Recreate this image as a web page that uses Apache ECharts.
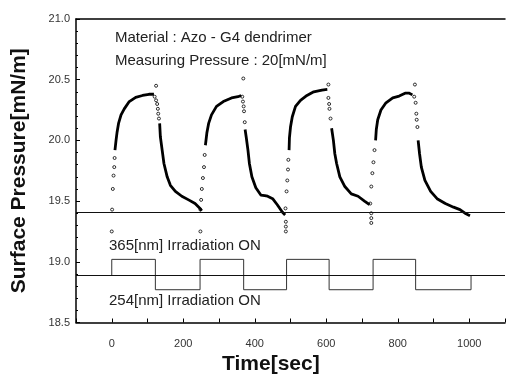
<!DOCTYPE html>
<html>
<head>
<meta charset="utf-8">
<script src="https://cdn.jsdelivr.net/npm/echarts@6/dist/echarts.min.js"></script>
<style>
  html, body { margin: 0; padding: 0; background: #fff; }
  #chart { width: 508px; height: 374px; }
</style>
</head>
<body>
<div id="chart"></div>
<script>
// Surface pressure trace: [time s, pressure mN/m]
// dense stretches (drawn as a thick trace), null splits the segments
const tracePts = [
  [9, 19.92], [12, 20.0], [15, 20.07], [19, 20.14], [26, 20.21], [35, 20.26], [49, 20.32],
  [67, 20.355], [86, 20.37], [104, 20.38], [118, 20.38], null,
  [134, 20.14], [136, 20.03], [141, 19.92], [146, 19.81], [155, 19.70], [164, 19.63],
  [178, 19.58], [196, 19.54], [215, 19.51], [233, 19.48], [247, 19.44], [251, 19.42], null,
  [262, 19.96], [266, 20.06], [271, 20.14], [279, 20.21], [293, 20.28], [312, 20.32],
  [335, 20.35], [353, 20.36], [362, 20.37], null,
  [373, 20.09], [376, 20.03], [381, 19.92], [385, 19.81], [392, 19.70], [403, 19.61],
  [417, 19.55], [428, 19.545], [436, 19.54], [450, 19.52], [463, 19.47], [477, 19.41], [485, 19.385], null,
  [496, 19.92], [497, 20.02], [500, 20.11], [505, 20.195], [514, 20.28], [528, 20.33],
  [546, 20.37], [565, 20.40], [588, 20.415], [603, 20.42], null,
  [615, 20.10], [620, 20.0], [624, 19.89], [629, 19.81], [638, 19.70], [652, 19.62],
  [670, 19.56], [689, 19.54], [707, 19.50], [721, 19.47], null,
  [738, 20.0], [740, 20.09], [744, 20.17], [753, 20.25], [767, 20.31], [786, 20.35],
  [804, 20.365], [822, 20.39], [831, 20.39], [841, 20.375], null,
  [857, 20.0], [861, 19.89], [866, 19.78], [876, 19.67], [892, 19.58], [910, 19.52],
  [933, 19.48], [956, 19.45], [974, 19.43], [988, 19.40], [1002, 19.38]
];
// sparse points on the fast rises / drops and stray readings
const sparsePts = [
  [0, 19.25], [1, 19.43], [3, 19.60], [5, 19.71], [7, 19.78], [8, 19.855],
  [124, 20.45], [120, 20.36], [124, 20.33], [127, 20.30], [129, 20.26], [130, 20.22], [132, 20.18],
  [248, 19.25], [248, 19.43], [250, 19.51], [252, 19.60], [255, 19.69], [258, 19.78], [260, 19.88],
  [368, 20.51], [365, 20.36], [367, 20.32], [369, 20.28], [370, 20.24], [372, 20.15],
  [487, 19.33], [487, 19.29], [487, 19.25],
  [486, 19.44], [489, 19.58], [491, 19.67], [493, 19.76], [494, 19.84],
  [606, 20.46], [606, 20.35], [608, 20.30], [609, 20.26], [612, 20.18],
  [726, 19.40], [726, 19.36], [726, 19.32],
  [723, 19.48], [726, 19.62], [729, 19.73], [732, 19.82], [735, 19.92],
  [848, 20.46], [846, 20.36], [850, 20.31], [852, 20.22], [853, 20.17], [855, 20.11]
];
// irradiation switching signal (step line)
const irrTimes  = [0, 0, 122, 247, 369, 489, 608, 731, 850, 1005];
const irrLevels = [18.89, 19.02, 18.77, 19.02, 18.77, 19.02, 18.77, 19.02, 18.77, 18.89];
const baseLevel = 18.89;
const refLevel  = 19.41;
const xLabels = [0, 200, 400, 600, 800, 1000];

const font = '"Liberation Sans", Arial, sans-serif';
const note = (text, left, top) => ({
  type: 'text', left, top, style: { text, font: '15px ' + font, fill: '#222' }
});
const chart = echarts.init(document.getElementById('chart'));

chart.setOption({
  backgroundColor: '#fff',
  animation: false,
  grid: { left: 76, right: 0, top: 19, bottom: 51.5 },
  xAxis: [
    {
      type: 'value', min: -100, max: 1100, interval: 100,
      axisLine: { onZero: false, lineStyle: { color: '#000', width: 1.5 } },
      axisTick: { inside: true, length: 4, lineStyle: { color: '#000' } },
      axisLabel: {
        margin: 16, color: '#333', fontFamily: font, fontSize: 11,
        formatter: (v) => (xLabels.includes(v) ? String(v) : '')
      },
      splitLine: { show: false }
    },
    {
      type: 'value', position: 'top', min: -100, max: 1100,
      axisLine: { show: true, onZero: false, lineStyle: { color: '#000', width: 1.5 } },
      axisTick: { show: false }, axisLabel: { show: false }, splitLine: { show: false }
    }
  ],
  yAxis: {
    type: 'value', min: 18.5, max: 21.0, interval: 0.5,
    name: 'Surface Pressure[mN/m]', nameLocation: 'middle', nameGap: 46,
    nameTextStyle: { fontFamily: font, fontSize: 21, fontWeight: 'bold', color: '#111' },
    axisLine: { show: true, onZero: false, lineStyle: { color: '#000', width: 1.5 } },
    axisTick: { inside: true, length: 4, lineStyle: { color: '#000' } },
    minorTick: { show: true, splitNumber: 5, length: 2, lineStyle: { color: '#000' } },
    axisLabel: {
      margin: 6, color: '#333', fontFamily: font, fontSize: 11,
      formatter: (v) => v.toFixed(1)
    },
    splitLine: { show: false }
  },
  graphic: [
    note('Material : Azo - G4 dendrimer', 115, 30.5),
    note('Measuring Pressure : 20[mN/m]', 115, 53.5),
    note('365[nm] Irradiation ON', 109, 238.5),
    note('254[nm] Irradiation ON', 109, 293.5),
    { type: 'text', left: 222, top: 354, style: { text: 'Time[sec]', font: 'bold 21px ' + font, fill: '#111' } }
  ],
  series: [
    {
      name: 'irradiation', type: 'line', step: 'end', symbol: 'none',
      data: irrTimes.map((t, i) => [t, irrLevels[i]]),
      lineStyle: { color: '#333', width: 1 },
      markLine: {
        silent: true, symbol: 'none', label: { show: false },
        lineStyle: { color: '#111', width: 1, type: 'solid' },
        data: [{ yAxis: baseLevel }, { yAxis: refLevel }]
      }
    },
    {
      name: 'trace', type: 'line', symbol: 'none', connectNulls: false,
      data: tracePts, lineStyle: { color: '#000', width: 2.8 }
    },
    {
      name: 'points', type: 'scatter', symbol: 'circle', symbolSize: 3,
      data: sparsePts, itemStyle: { color: '#fff', borderColor: '#000', borderWidth: 1 }
    }
  ]
});
</script>
</body>
</html>
